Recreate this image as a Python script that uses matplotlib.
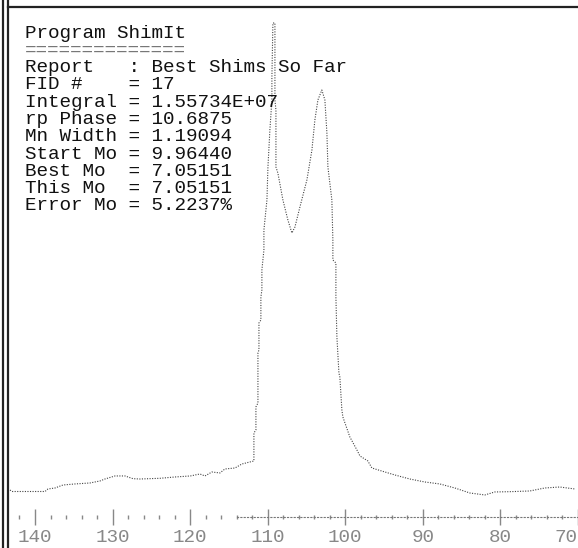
import matplotlib
matplotlib.use("Agg")
import matplotlib.pyplot as plt
from matplotlib.lines import Line2D

# スペクトルデータ (ppm, 相対強度 %)
ppm = [143.22, 142.96, 140.64, 138.71, 138.32, 137.42, 136.39, 134.85, 132.91,
       131.62, 130.98, 129.69, 128.40, 127.37, 126.47, 123.89, 121.96, 119.97,
       118.74, 118.09, 117.19, 116.16, 115.52, 114.23, 113.32, 112.29, 111.78,
       111.78, 111.52, 111.52, 111.26, 111.26, 111.13, 111.13, 110.88, 110.88,
       110.75, 110.75, 110.49, 110.49, 110.10, 109.97, 109.72, 109.46, 109.46,
       109.33, 109.07, 109.07, 108.94, 108.94, 108.69, 108.04, 107.40, 106.88,
       106.49, 105.85, 104.95, 104.30, 103.92, 103.53, 103.02, 102.63, 102.37,
       102.24, 101.73, 101.60, 101.60, 101.21, 101.21, 101.08, 100.82, 100.70,
       100.44, 100.31, 99.41, 98.50, 98.11, 97.09, 96.57, 94.90, 93.61, 91.68,
       89.74, 87.81, 85.88, 83.94, 82.01, 80.72, 78.79, 76.21, 74.28, 72.35,
       70.41]
intensity = [0.21, -0.11, -0.11, -0.11, 0.43, 0.64, 1.28, 1.50, 1.71,
             2.14, 2.56, 3.21, 3.21, 2.63, 2.56, 2.71, 2.99, 3.21,
             3.63, 3.21, 4.06, 3.85, 4.70, 4.91, 5.77, 6.20, 6.41,
             12.39, 13.03, 17.95, 18.80, 29.49, 30.13, 35.90, 36.54, 41.45,
             42.95, 47.22, 51.50, 55.77, 62.18, 69.23, 77.14, 83.55, 88.46,
             100.0, 100.0, 83.55, 81.41, 69.23, 67.95, 62.18, 57.91, 55.13,
             56.41, 60.68, 66.45, 72.86, 79.27, 83.55, 85.68, 83.55, 76.50,
             69.23, 62.18, 53.63, 49.36, 48.72, 41.45, 32.91, 25.21, 24.36,
             17.31, 15.81, 11.54, 8.76, 7.48, 6.41, 4.91, 4.06, 3.42, 2.56,
             1.92, 1.50, 0.64, -0.43, -0.85, -0.21, -0.15, 0.0, 0.64, 0.85,
             0.43]

major_ticks = [140, 130, 120, 110, 100, 90, 80, 70]
minor_ticks = list(range(70, 144, 2))

report_lines = [
    "Program ShimIt",
    "",
    "Report   : Best Shims So Far",
    "FID #    = 17",
    "Integral = 1.55734E+07",
    "rp Phase = 10.6875",
    "Mn Width = 1.19094",
    "Start Mo = 9.96440",
    "Best Mo  = 7.05151",
    "This Mo  = 7.05151",
    "Error Mo = 5.2237%",
]

W, H = 578, 548
fig = plt.figure(figsize=(W / 100, H / 100), dpi=100)
fig.patch.set_facecolor("white")

# 描画領域 (枠の内側)
ax = fig.add_axes([8 / W, 31 / H, (W - 8) / W, (517 - 7) / H])
ax.plot(ppm, intensity, color="#444444", lw=0.8, ls=(0, (1, 1.3)))
ax.set_xlim(143.48, 70.03)
ax.set_ylim(-5.56, 103.42)

for s in ["left", "right"]:
    ax.spines[s].set_visible(False)
ax.spines["top"].set_linewidth(1.6)
ax.spines["top"].set_color("#222222")
ax.spines["bottom"].set_linestyle((0, (1, 2)))
ax.spines["bottom"].set_color("#777777")
ax.spines["bottom"].set_bounds(114, 70)

ax.set_yticks([])
ax.set_xticks(major_ticks)
ax.set_xticks(minor_ticks, minor=True)
ax.set_xticklabels([str(t) for t in major_ticks], family="Liberation Mono",
                   fontsize=13.9, color="#888888")
# 右端のラベルは枠内に収める
ax.get_xticklabels()[-1].set_horizontalalignment("right")
ax.tick_params(axis="x", which="major", direction="inout", length=12,
               width=1, color="#888888", pad=3)
ax.tick_params(axis="x", which="minor", direction="inout", length=3,
               width=1, color="#888888")

# 左側の二重線
for xp in [3, 7.5]:
    fig.add_artist(Line2D([xp / W, xp / W], [0, 1], transform=fig.transFigure,
                          color="#222222", lw=1.6))

# レポート文字列
for i, line in enumerate(report_lines):
    y_px = 33 + i * 17.3
    fig.text(25 / W, 1 - y_px / H, line, family="Liberation Mono",
             fontsize=13.9, color="#111111", va="center", ha="left")
fig.text(25 / W, 1 - 50 / H, "=" * 14, family="Liberation Mono",
         fontsize=13.9, color="#777777", va="center", ha="left")

fig.savefig("out.png", dpi=100)
